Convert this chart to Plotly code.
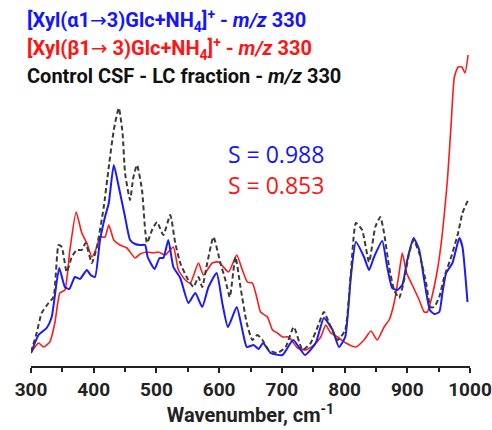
import plotly.graph_objects as go

# Wavenumber (cm^-1) and intensity (arbitrary units)
wn_alpha = [300, 312, 325, 333, 345, 354, 361, 370, 378, 389, 395, 402, 410, 418, 424, 432, 440, 450,
            458, 466, 474, 482, 486, 497, 505, 511, 519, 527, 538, 551, 562, 573, 583, 596, 605, 614,
            628, 637, 644, 655, 663, 670, 682, 701, 718, 737, 754, 767, 781, 791, 801, 810, 818, 831,
            839, 847, 860, 868, 876, 884, 892, 900, 910, 919, 927, 936, 943, 951, 956, 962, 972, 983,
            988, 996]
int_alpha = [11, 29, 36, 47, 96, 77, 75, 87, 85, 94, 89, 87, 124, 147, 161, 199, 177, 147,
             124, 120, 119, 119, 107, 95, 106, 106, 124, 97, 86, 61, 71, 57, 77, 91, 61, 37,
             57, 34, 17, 19, 15, 21, 11, 9, 24, 9, 21, 46, 34, 17, 27, 87, 122, 107,
             94, 107, 123, 97, 76, 74, 79, 104, 126, 114, 84, 54, 50, 52, 71, 91, 101, 126,
             117, 62]

wn_beta = [300, 312, 320, 330, 338, 346, 354, 362, 372, 381, 389, 397, 405, 410, 418, 424, 432, 442,
           453, 466, 474, 485, 495, 503, 514, 527, 535, 546, 554, 567, 575, 589, 599, 615, 628, 637,
           645, 653, 661, 666, 677, 685, 693, 701, 711, 725, 738, 751, 762, 770, 778, 789, 802, 818,
           831, 842, 852, 863, 871, 879, 887, 892, 899, 908, 919, 927, 932, 938, 948, 956, 964, 970,
           975, 981, 987, 992, 997]
int_beta = [11, 21, 17, 22, 41, 71, 74, 114, 152, 131, 121, 107, 117, 127, 127, 139, 124, 119,
            116, 106, 110, 112, 111, 112, 109, 117, 94, 84, 81, 101, 89, 101, 102, 92, 109, 94,
            82, 81, 64, 52, 47, 34, 31, 27, 27, 16, 14, 19, 27, 39, 31, 27, 21, 17,
            24, 33, 24, 37, 44, 61, 91, 111, 91, 79, 64, 52, 52, 64, 94, 131, 184, 241,
            287, 297, 297, 291, 309]

wn_csf = [300, 309, 317, 328, 336, 344, 349, 357, 365, 373, 381, 387, 397, 405, 416, 424, 432, 440,
          446, 450, 458, 463, 469, 477, 482, 485, 493, 501, 511, 522, 530, 538, 549, 559, 567, 573,
          581, 591, 602, 610, 617, 626, 634, 644, 653, 661, 669, 679, 693, 706, 719, 733, 746, 757,
          767, 778, 789, 801, 810, 818, 828, 839, 849, 857, 863, 871, 879, 887, 895, 903, 910, 919,
          930, 937, 943, 951, 959, 970, 981, 988, 997]
int_csf = [12, 31, 51, 61, 67, 119, 117, 92, 107, 114, 114, 121, 101, 117, 157, 197, 234, 256,
           231, 191, 164, 186, 199, 174, 134, 121, 134, 142, 129, 149, 121, 101, 86, 77, 87, 77,
           101, 127, 101, 84, 67, 107, 77, 41, 24, 29, 24, 14, 11, 17, 37, 14, 21, 37,
           52, 37, 24, 34, 91, 141, 134, 102, 137, 147, 131, 97, 74, 66, 84, 111, 124, 111,
           81, 57, 57, 67, 87, 107, 131, 151, 164]

x_ticks = [300, 400, 500, 600, 700, 800, 900, 1000]
x_minor = [350, 450, 550, 650, 750, 850, 950]
ARROW = "<span style=\"font-family:'DejaVu Sans';font-weight:normal\">→</span>"
title_lines = [
    ("[Xyl(α1" + ARROW + "3)Glc+NH<sub>4</sub>]<sup>+</sup> - <i>m/z</i> 330", "#1414ff"),
    ("[Xyl(β1" + ARROW + " 3)Glc+NH<sub>4</sub>]<sup>+</sup> - <i>m/z</i> 330", "#ff1414"),
    ("Control CSF - LC fraction - <i>m/z</i> 330", "#111111"),
]
s_labels = [("S = 0.988", "#1414ff"), ("S = 0.853", "#ff1414")]

BOLD_FONT = "Roboto, Open Sans, sans-serif"
REG_FONT = "Open Sans, Liberation Sans, sans-serif"

fig = go.Figure()
fig.add_trace(go.Scatter(x=wn_beta, y=int_beta, mode="lines",
                         line=dict(color="#ff1a1a", width=1.6, shape="spline", smoothing=0.5)))
fig.add_trace(go.Scatter(x=wn_alpha, y=int_alpha, mode="lines",
                         line=dict(color="#1a1aff", width=2, shape="spline", smoothing=0.5)))
fig.add_trace(go.Scatter(x=wn_csf, y=int_csf, mode="lines",
                         line=dict(color="#3a3a3a", width=2, dash="5px,3px", shape="spline", smoothing=0.5)))

annots = []
for i, (txt, col) in enumerate(title_lines):
    py = 20 + 28 * i
    annots.append(dict(text="<b>" + txt + "</b>", xref="paper", yref="paper",
                       x=(25 - 31) / 439, y=(366 - py) / 322, xanchor="left", yanchor="middle",
                       showarrow=False, font=dict(family=BOLD_FONT, size=20, color=col)))
for i, (txt, col) in enumerate(s_labels):
    py = 154 + 31 * i
    annots.append(dict(text=txt, xref="paper", yref="paper",
                       x=(226 - 31) / 439, y=(366 - py) / 322, xanchor="left", yanchor="middle",
                       showarrow=False, font=dict(family=REG_FONT, size=23, color=col)))

fig.update_layout(
    width=492, height=430,
    margin=dict(l=31, r=22, t=44, b=64),
    paper_bgcolor="white", plot_bgcolor="white",
    showlegend=False,
    annotations=annots,
    xaxis=dict(range=[300, 1000], tickvals=x_ticks, ticktext=["<b>%d</b>" % v for v in x_ticks],
               showline=True, linecolor="#222", linewidth=2, ticks="outside", ticklen=5,
               tickwidth=2, tickcolor="#222", showgrid=False, zeroline=False,
               ticklabeloverflow="allow", automargin=False,
               tickfont=dict(family=BOLD_FONT, size=19, color="#222"),
               minor=dict(tickvals=x_minor, ticks="outside", ticklen=4,
                          tickwidth=2, tickcolor="#222", showgrid=False),
               title=dict(text="<b>Wavenumber, cm<sup>-1</sup></b>", standoff=4,
                          font=dict(family=BOLD_FONT, size=20, color="#222"))),
    yaxis=dict(range=[-2, 320], visible=False, showgrid=False, zeroline=False),
)

fig.write_html("out.html", config={"displayModeBar": False},
               post_script="document.body.style.margin='0';")
